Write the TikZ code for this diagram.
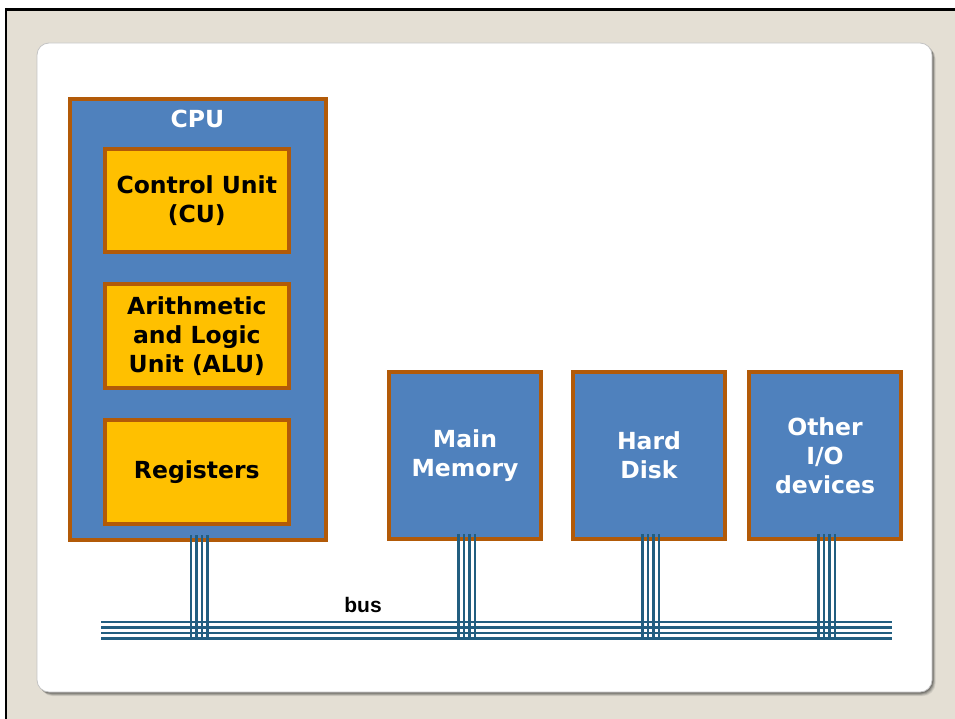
\documentclass[tikz,border=0pt]{standalone}
\usepackage{fontspec}
\setmainfont{DejaVu Sans}
\newfontfamily\busfont{Liberation Sans}
\definecolor{beige}{RGB}{228,223,212}
\definecolor{boxblue}{RGB}{79,129,189}
\definecolor{boxedge}{RGB}{178,90,8}
\definecolor{boxyellow}{RGB}{255,192,0}
\definecolor{busblue}{RGB}{34,94,128}
\definecolor{paneledge}{RGB}{196,196,196}
\tikzset{
  unitbox/.style={draw=boxedge, line width=4pt, fill=boxblue, text=white,
    align=center, inner sep=0pt, font=\bfseries\fontsize{23.5}{29}\selectfont},
  subbox/.style={unitbox, fill=boxyellow, text=black},
  busline/.style={draw=busblue, line width=2.5pt},
  stubline/.style={draw=busblue, line width=2.5pt},
}
\begin{document}
\begin{tikzpicture}[x=1pt,y=-1pt]
\useasboundingbox (0,0) rectangle (955,719);
\fill[white] (0,0) rectangle (955,719);
\fill[beige] (5,8) rectangle (955,719);
\draw[black, line width=3pt] (5,9.5) -- (955,9.5);
\draw[black, line width=2pt] (6,8) -- (6,719);
% panel shadow
\foreach \o/\a in {6/0.07,5/0.09,4/0.12,3/0.15,2/0.18}
  \fill[black, opacity=\a, rounded corners=13pt] (37+\o*0.5,43+\o*0.5) rectangle (932+\o*0.6,692+\o*0.7);
\filldraw[fill=white, draw=paneledge, line width=0.8pt, rounded corners=12pt] (37,43) rectangle (932,692);
% boxes
\node[unitbox, minimum width=256pt, minimum height=440.5pt] (cpu) at (197.5,319.75) {};
\node[font=\bfseries\fontsize{23.5}{29}\selectfont, text=white, anchor=base] (cpulabel) at (197.5,128) {CPU};
\node[subbox, minimum width=184.3pt, minimum height=103.3pt] (cu) at (196.8,200.3) {Control Unit\\(CU)};
\node[subbox, minimum width=184.3pt, minimum height=104.3pt] (alu) at (196.8,335.8) {Arithmetic\\and Logic\\Unit (ALU)};
\node[subbox, minimum width=184.3pt, minimum height=103.3pt] (reg) at (196.8,472) {Registers};
\node[unitbox, minimum width=152pt, minimum height=166.7pt] (mm) at (465,455.7) {Main\\Memory};
\node[unitbox, minimum width=152pt, minimum height=166.7pt] (hd) at (649,455.7) {Hard\\Disk};
\node[unitbox, minimum width=152pt, minimum height=166.7pt] (io) at (825,455.7) {Other\\I/O\\devices};
% bus
\coordinate (busL) at (101,622);
\coordinate (busR) at (892,622);
\foreach \d in {0,5.5,11,16.5}
  \draw[busline] ([yshift=-\d pt]busL) -- ([yshift=-\d pt]busR);
\foreach \n in {cpu,mm,hd,io}
  \foreach \d in {-6.75,-1.25,4.25,9.75}
    \draw[stubline] ([xshift=\d pt,yshift=7pt]\n.south) -- ([xshift=\d pt,yshift=-96pt]\n.south);
\node[font=\busfont\bfseries\fontsize{21}{24}\selectfont, anchor=base] (buslabel) at (363,612) {bus};
\end{tikzpicture}
\end{document}
